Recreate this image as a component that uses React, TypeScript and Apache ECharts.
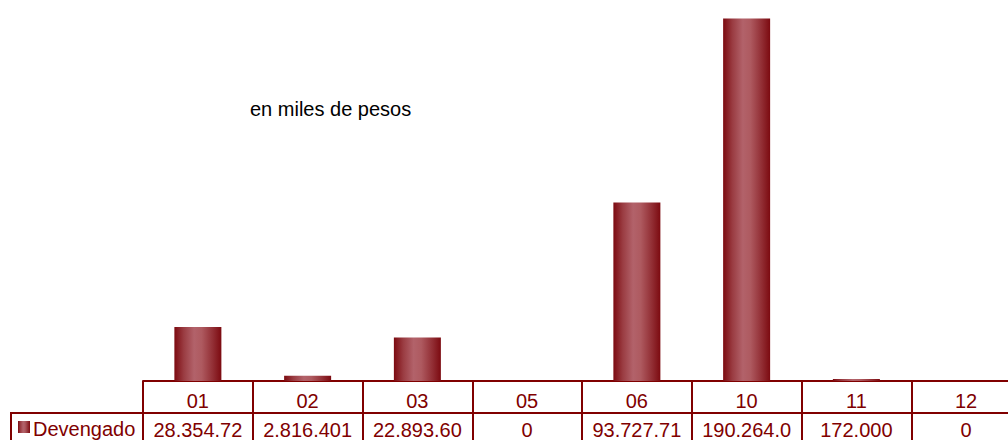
import React, { useEffect, useRef } from "react";
import * as echarts from "echarts";

const categories = ["01", "02", "03", "05", "06", "10", "11", "12"];
const devengado = [28354.72, 2816.401, 22893.6, 0, 93727.71, 190264.0, 172.0, 0];
const devengadoLabels = ["28.354.72", "2.816.401", "22.893.60", "0", "93.727.71", "190.264.0", "172.000", "0"];
const seriesName = "Devengado";
const subtitle = "en miles de pesos";

const DARK = "#800000";
const FONT = "'Liberation Sans', Arial, sans-serif";

const barGradient = () =>
  new echarts.graphic.LinearGradient(0, 0, 1, 0, [
    { offset: 0, color: "#7c0a10" },
    { offset: 0.2, color: "#9a3c42" },
    { offset: 0.42, color: "#b2626a" },
    { offset: 0.58, color: "#ae5a60" },
    { offset: 0.82, color: "#922e34" },
    { offset: 1, color: "#7c0a10" },
  ]);

export default function App() {
  const ref = useRef<HTMLDivElement>(null);
  useEffect(() => {
    if (!ref.current) return;
    const chart = echarts.init(ref.current, undefined, { renderer: "svg" });
    chart.setOption({
      animation: false,
      backgroundColor: "#ffffff",
      textStyle: { fontFamily: FONT },
      grid: { left: 143, top: 0, width: 878, height: 381 },
      xAxis: [
        {
          type: "category",
          data: categories,
          position: "bottom",
          axisLine: { show: true, lineStyle: { color: DARK, width: 2 } },
          axisTick: { show: true, interval: 0, length: 32, lineStyle: { color: DARK, width: 2 } },
          axisLabel: { interval: 0, color: DARK, fontSize: 20, fontFamily: FONT, margin: 10 },
          splitLine: { show: false },
        },
        {
          type: "category",
          data: devengadoLabels,
          position: "bottom",
          offset: 32,
          axisLine: { show: true, lineStyle: { color: DARK, width: 2 } },
          axisTick: { show: true, interval: 0, length: 40, lineStyle: { color: DARK, width: 2 } },
          axisLabel: { interval: 0, color: DARK, fontSize: 20, fontFamily: FONT, margin: 7 },
          splitLine: { show: false },
        },
      ],
      yAxis: {
        type: "value",
        min: 0,
        max: 200000,
        show: false,
        splitLine: { show: false },
      },
      series: [
        {
          name: seriesName,
          type: "bar",
          xAxisIndex: 0,
          barWidth: 47,
          barMinHeight: 2,
          data: devengado.map((v) => (v === 0 ? "-" : v)),
          itemStyle: { color: barGradient() },
        },
      ],
      graphic: [
        {
          type: "text",
          left: 250,
          top: 99,
          style: { text: subtitle, fill: "#000000", font: `20px ${FONT}`, letterSpacing: 0.4 },
        },
        {
          type: "rect",
          shape: { x: 11, y: 413, width: 132, height: 40 },
          style: { fill: "none", stroke: DARK, lineWidth: 2 },
        },
        {
          type: "rect",
          shape: { x: 18, y: 421, width: 12, height: 12 },
          style: { fill: barGradient() },
        },
        {
          type: "text",
          left: 33,
          top: 419,
          style: { text: seriesName, fill: DARK, font: `20px ${FONT}` },
        },
      ],
    });
    return () => chart.dispose();
  }, []);
  return (
    <div style={{ position: "fixed", left: 0, top: 0, width: 1008, height: 440, overflow: "hidden", background: "#fff" }}>
      <div ref={ref} style={{ width: 1030, height: 440 }} />
    </div>
  );
}
